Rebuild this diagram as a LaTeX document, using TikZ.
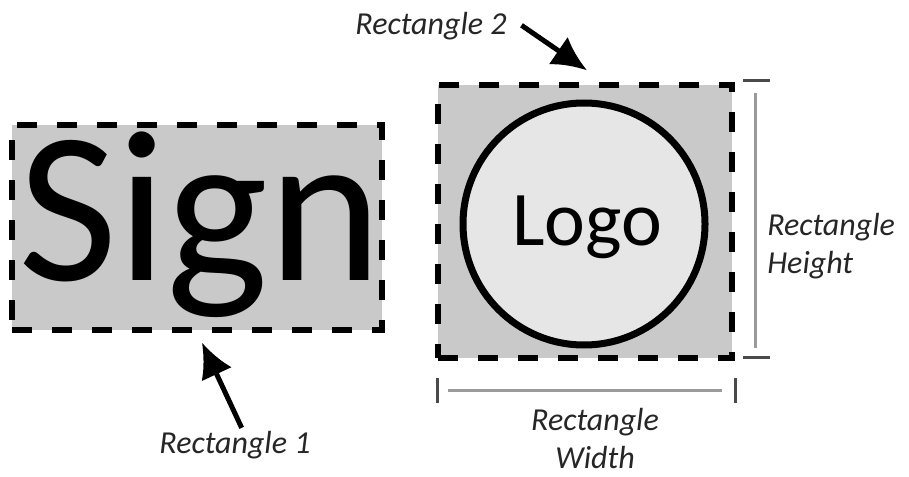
\documentclass[tikz,border=0pt]{standalone}
\usepackage{fontspec}
\setmainfont{Carlito}
\usepackage{xcolor}
\usepackage{tikz}
\usetikzlibrary{arrows.meta}
\usetikzlibrary{calc}
\definecolor{boxgray}{HTML}{C9C9C9}
\definecolor{logogray}{HTML}{E6E6E6}
\definecolor{dimgray}{HTML}{9A9A9A}
\definecolor{tickgray}{HTML}{4A4A4A}
\tikzstyle{area} = [draw, line width=4pt, dash pattern=on 15pt off 15pt, fill=boxgray, inner sep=0pt]
\tikzstyle{label} = [font=\itshape\fontsize{24}{28.5}\selectfont, text=black!85, inner sep=0pt]
\tikzstyle{pointer} = [line width=3.75pt, -{Latex[length=26pt,width=25pt]}]
\tikzstyle{dimline} = [dimgray, line width=2.25pt]
\tikzstyle{dimtick} = [tickgray, line width=2.25pt]

\begin{document}
\begin{tikzpicture}[x=0.75pt, y=-0.75pt]
	\useasboundingbox (0, 0) rectangle (909, 477) ;
	
	\node[area, minimum width=277.5pt, minimum height=153.75pt] (rectOne) at (197, 227.5) {} ;
	\node[anchor=base, inner sep=0pt, font=\fontsize{162}{162}\selectfont] (sign) at (200, 280) {Sign} ;
	
	\node[area, minimum width=220.5pt, minimum height=204.75pt] (rectTwo) at (585, 221.5) {} ;
	\node[draw, circle, line width=5.25pt, fill=logogray, minimum size=181.5pt, inner sep=0pt] (badge) at (584, 224) {} ;
	\node[anchor=base, inner sep=0pt, font=\fontsize{58}{58}\selectfont] (logo) at (587, 245) {Logo} ;
	
	\node[label, anchor=base] (labOne) at (235, 453) {Rectangle 1} ;
	\node[label, anchor=base] (labTwo) at (431, 35) {Rectangle 2} ;
	\draw[pointer] ([xshift=5pt, yshift=2pt]labOne.north) -- ([xshift=3.75pt, yshift=-7.5pt]rectOne.south) ;
	\draw[pointer] ([xshift=11pt, yshift=1pt]labTwo.east) -- ([xshift=1.5pt, yshift=9pt]rectTwo.north) ;
	
	\coordinate (hTop) at (755, 81) ;
	\coordinate (hBot) at (755, 357) ;
	\draw[dimtick] ($(hTop)+(-12, 0)$) -- ($(hTop)+(15, 0)$) ;
	\draw[dimtick] ($(hBot)+(-12, 0)$) -- ($(hBot)+(15, 0)$) ;
	\draw[dimline] ($(hTop)+(0, 12)$) -- ($(hBot)+(0, -9)$) ;
	\node[label, align=left, anchor=west] (labHeight) at (767, 246) {Rectangle\\Height} ;
	
	\coordinate (wLeft) at (437, 390) ;
	\coordinate (wRight) at (735, 390) ;
	\draw[dimtick] ($(wLeft)+(0, -12)$) -- ($(wLeft)+(0, 13)$) ;
	\draw[dimtick] ($(wRight)+(0, -12)$) -- ($(wRight)+(0, 13)$) ;
	\draw[dimline] ($(wLeft)+(11, 0)$) -- ($(wRight)+(-13, 0)$) ;
	\node[label, align=center, anchor=north] (labWidth) at (595, 408) {Rectangle\\Width} ;
\end{tikzpicture}
\end{document}
